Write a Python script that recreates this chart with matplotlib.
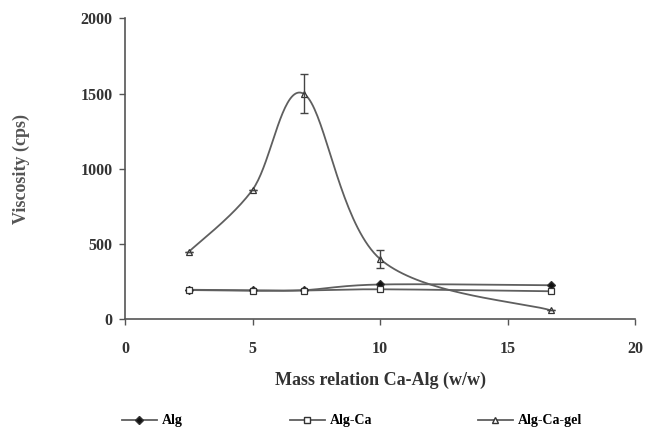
import numpy as np
import matplotlib
matplotlib.use("Agg")
import matplotlib.pyplot as plt
from matplotlib.lines import Line2D

mass_ratio = [2.5, 5.0, 7.0, 10.0, 16.7]
alg = [195, 192, 192, 230, 225]
alg_ca = [193, 188, 190, 198, 185]
alg_ca_gel = [447, 860, 1500, 400, 58]
gel_err = [0, 0, 128, 60, 0]

x_ticks = [0, 5, 10, 15, 20]
y_ticks = [0, 500, 1000, 1500, 2000]
y_tick_labels = ["0", "500", "1000", "1500", "2000"]
series_names = ['Alg', 'Alg-Ca', 'Alg-Ca-gel']

plt.rcParams['font.family'] = ['Liberation Serif', 'DejaVu Serif']


def smooth(x, y, n=40):
    # Bezier smoothing similar to spreadsheet "smoothed line"
    x = np.asarray(x, float); y = np.asarray(y, float)
    px, py = [], []
    m = len(x)
    for i in range(m - 1):
        p0 = np.array([x[max(i - 1, 0)], y[max(i - 1, 0)]])
        p1 = np.array([x[i], y[i]])
        p2 = np.array([x[i + 1], y[i + 1]])
        p3 = np.array([x[min(i + 2, m - 1)], y[min(i + 2, m - 1)]])
        c1 = p1 + (p2 - p0) / 6.0
        c2 = p2 - (p3 - p1) / 6.0
        t = np.linspace(0, 1, n)[:, None]
        pts = ((1 - t) ** 3) * p1 + 3 * ((1 - t) ** 2) * t * c1 + 3 * (1 - t) * t ** 2 * c2 + t ** 3 * p2
        px.extend(pts[:, 0]); py.extend(pts[:, 1])
    return np.array(px), np.array(py)


fig = plt.figure(figsize=(6.46, 4.30), dpi=100)
ax = fig.add_axes([0.1935, 0.258, 0.7895, 0.699])

lc = '#5f5f5f'
styles = [('D', '#111111'), ('s', 'white'), ('^', 'white')]
for yv, (mk, mfc) in zip([alg, alg_ca, alg_ca_gel], styles):
    sx, sy = smooth(mass_ratio, yv)
    ax.plot(sx, sy, color=lc, lw=1.3, zorder=2)
    ax.plot(mass_ratio, yv, linestyle='none', marker=mk, ms=4.5, mfc=mfc, mec='#333333', mew=0.9, zorder=3)

ax.errorbar(mass_ratio, alg_ca_gel, yerr=gel_err, fmt='none', ecolor='#444444', elinewidth=1.0, capsize=3, zorder=3)

ax.set_xlim(0, 20)
ax.set_ylim(0, 2000)
ax.set_xticks(x_ticks)
ax.set_yticks(y_ticks)
ax.set_yticklabels(y_tick_labels)
ax.spines['top'].set_visible(False)
ax.spines['right'].set_visible(False)
for s in ['left', 'bottom']:
    ax.spines[s].set_color('#555555')
    ax.spines[s].set_linewidth(1.2)
ax.tick_params(direction='out', length=4, width=1.0, color='#555555', labelsize=11.5)
ax.tick_params(axis='x', pad=12)
ax.tick_params(axis='y', pad=5)
for lab in ax.get_xticklabels() + ax.get_yticklabels():
    lab.set_fontweight('bold')
    lab.set_color('#333333')
ax.set_xlabel('Mass relation Ca-Alg (w/w)', fontsize=13, fontweight='bold', color='#333333')
ax.set_ylabel('Viscosity (cps)', fontsize=13, fontweight='bold', color='#555555')
ax.xaxis.set_label_coords(0.5, -0.176)
ax.yaxis.set_label_coords(-0.186, 0.5)

legend_x = [122, 290, 478]
for name, (mk, mfc), x0 in zip(series_names, styles, legend_x):
    h = Line2D([], [], color=lc, lw=1.3, marker=mk, ms=4.5, mfc=mfc, mec='#333333')
    fig.legend([h], [name], loc='center left', bbox_to_anchor=(x0 / 646, 0.021),
               frameon=False, borderpad=0, borderaxespad=0, handlelength=2.5,
               handletextpad=0.35, prop={'size': 10, 'weight': 'bold'})

fig.savefig('out.png', dpi=100)
